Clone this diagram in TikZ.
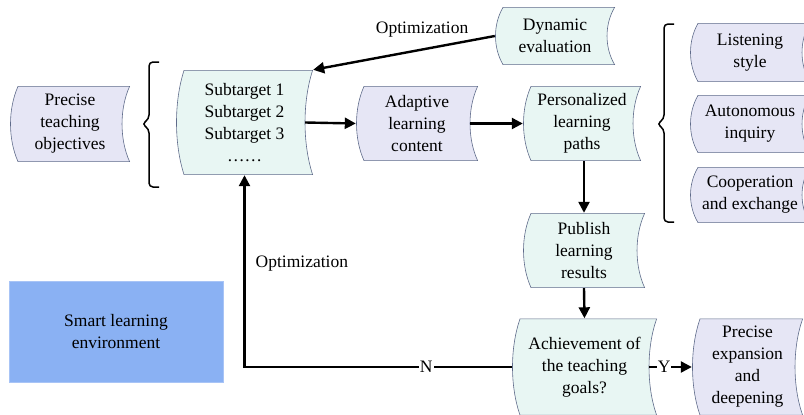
\documentclass[tikz,border=0pt]{standalone}
\usepackage{fontspec}
\setmainfont{Liberation Serif}
\usetikzlibrary{calc,arrows.meta}

\definecolor{lavfill}{HTML}{E6E6F5}
\definecolor{cyafill}{HTML}{E8F6F3}
\definecolor{edgec}{HTML}{5F6B8A}
\definecolor{envfill}{HTML}{8AB1F3}
\definecolor{envedge}{HTML}{A8C4F6}

\tikzset{
	tape/.style={inner sep=0pt, align=center,
		path picture={
			\path[fill=#1, draw=edgec, line width=0.6pt]
				let \p1=(path picture bounding box.south west),
				    \p2=(path picture bounding box.north east) in
				(\x1+8pt,\y2-0.4pt) -- (\x2-0.4pt,\y2-0.4pt)
				.. controls (\x2-10.5pt,0.7*\y2+0.3*\y1) and (\x2-10.5pt,0.3*\y2+0.7*\y1) .. (\x2-0.4pt,\y1+0.4pt)
				-- (\x1+8pt,\y1+0.4pt)
				.. controls (\x1-2pt,0.3*\y2+0.7*\y1) and (\x1-2pt,0.7*\y2+0.3*\y1) .. cycle;
		}},
	lav/.style={tape=lavfill},
	cya/.style={tape=cyafill},
	arr/.style={line width=2.4pt, -{Triangle[length=11pt,width=11pt]}},
	lbl/.style={inner sep=1pt, fill=white},
	curly/.style={line width=1.5pt, rounded corners=4pt}
}

\begin{document}
\begin{tikzpicture}[x=1pt, y=-1pt, font=\fontsize{17.5}{22}\selectfont]
	\useasboundingbox (0,0) rectangle (804,415);
	% Boxes:
	\node[lav, minimum width=120pt, minimum height=76pt] (obj) at (70,124) {Precise\\teaching\\objectives};
	\node[cya, minimum width=137pt, minimum height=105pt] (sub) at (244.5,122.5) {Subtarget 1\\Subtarget 2\\Subtarget 3\\……};
	\node[lav, minimum width=122pt, minimum height=75pt] (cont) at (417,123.5) {Adaptive\\learning\\content};
	\node[cya, minimum width=118pt, minimum height=75pt] (paths) at (582,123.5) {Personalized\\learning\\paths};
	\node[cya, minimum width=120pt, minimum height=58pt] (dyn) at (555,36) {Dynamic\\evaluation};
	\node[lav, minimum width=120pt, minimum height=59pt] (listen) at (750,52.5) {Listening\\style};
	\node[lav, minimum width=120pt, minimum height=58pt] (inquiry) at (750,124) {Autonomous\\inquiry};
	\node[lav, minimum width=120pt, minimum height=56pt] (coop) at (750,195) {Cooperation\\and exchange};
	\node[cya, minimum width=122pt, minimum height=75pt] (pub) at (584,250.5) {Publish\\learning\\results};
	\node[cya, minimum width=145pt, minimum height=97pt] (goal) at (584.5,367) {Achievement of\\the teaching\\goals?};
	\node[lav, minimum width=111pt, minimum height=97pt] (deep) at (747.5,367) {Precise\\expansion\\and\\deepening};
	\node[draw=envedge, fill=envfill, line width=0.8pt, align=center, minimum width=214pt, minimum height=101pt] (env) at (116,331.5) {Smart learning\\environment};
	% Braces:
	\draw[curly] (159,62) -- (149,62) -- (149,119) -- (142,124) -- (149,129) -- (149,187) -- (159,187);
	\draw[curly] (674,24) -- (664,24) -- (664,119) -- (657,124) -- (664,129) -- (664,222) -- (674,222);
	% Arrows:
	\draw[arr] ([xshift=-8pt]sub.east) -- (cont.west);
	\draw[arr] ([xshift=-8pt]cont.east) -- (paths.west);
	\draw[arr] (pub.north |- paths.south) -- (pub.north);
	\draw[arr] (pub.south) -- (goal.north);
	\draw[arr] ([xshift=-8pt]goal.east) -- node[lbl, pos=0.35] {Y} (deep.west);
	\draw[arr] (goal.west) -| node[lbl, pos=0.16] {N} node[pos=0.77, right=10pt, inner sep=0pt] {Optimization} (sub.south);
	\draw[arr] (dyn.west) -- node[pos=0.4, above=11pt, inner sep=0pt] {Optimization} (sub.north east);
\end{tikzpicture}
\end{document}
